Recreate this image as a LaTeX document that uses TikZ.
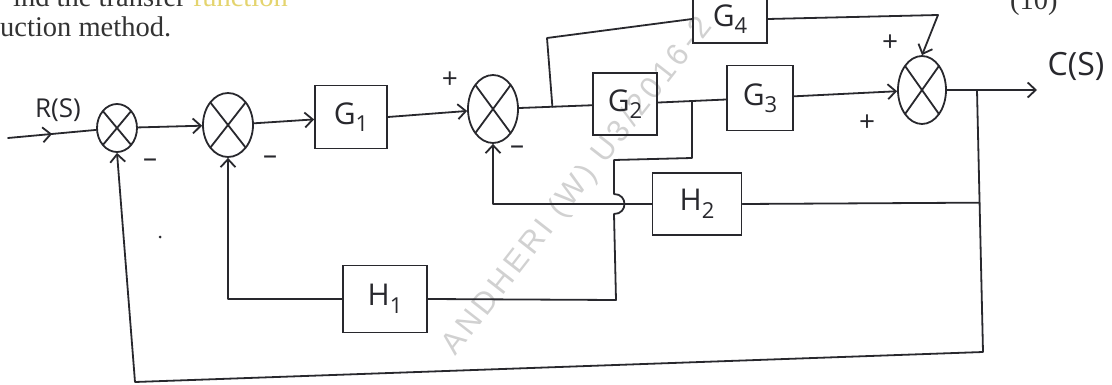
\documentclass[tikz,border=0pt]{standalone}
\usepackage{fontspec}
\setmainfont{Liberation Serif}
\newfontfamily\hand{Open Sans}
\newfontfamily\wmfont[LetterSpace=12]{Liberation Sans}
\usetikzlibrary{shapes.geometric,arrows.meta,decorations.markings,calc}
\definecolor{ink}{RGB}{40,40,45}
\definecolor{hl}{RGB}{228,212,110}
\newcommand{\sublab}[2]{#1\raisebox{-0.25em}{\fontsize{22}{22}\selectfont #2}}
\begin{document}
\begin{tikzpicture}[x=1pt,y=-1pt,
  wire/.style={line width=1.8pt, draw=ink, line cap=round, line join=round},
  >={Straight Barb[length=8pt,width=15pt]},
  blk/.style={draw=ink, line width=1.8pt, rectangle, inner sep=0pt, text=ink,
              font=\hand\fontsize{30}{30}\selectfont},
  sumj/.style={draw=ink, line width=1.8pt, ellipse, inner sep=0pt,
     path picture={\draw[line width=1.8pt, ink]
        (path picture bounding box.north west) -- (path picture bounding box.south east)
        (path picture bounding box.north east) -- (path picture bounding box.south west);}},
  sgn/.style={font=\hand\fontsize{28}{28}\selectfont, text=ink, inner sep=0pt},
  lbl/.style={font=\hand\fontsize{28}{28}\selectfont, text=ink, inner sep=0pt},
  printed/.style={anchor=base west, inner sep=0pt, text=black!80, font=\fontsize{28.5}{30}\selectfont},
  midarrow/.style={postaction={decorate}, decoration={markings, mark=at position 0.5 with {\arrow{>}}}}
  ]
\useasboundingbox (0,0) rectangle (1112,385);

% watermark
\node[rotate=52, anchor=base west, inner sep=0pt, text=black!18,
      font=\wmfont\fontsize{31}{31}\selectfont] (wm) at (455,357) {ANDHERI (W) U3/2016-2};

% printed question text
\node[printed] (q1) at (13,7) {ind the transfer \textcolor{hl}{function}};
\node[printed] (q2) at (0,37) {uction method.};
\node[printed] (q3) at (1010,10) {(10)};

% summing junctions
\node[sumj, minimum width=40pt, minimum height=48pt] (s1) at (117,128) {};
\node[sumj, minimum width=50pt, minimum height=64pt] (s2) at (228,125) {};
\node[sumj, minimum width=50pt, minimum height=68pt] (s3) at (493,109) {};
\node[sumj, minimum width=48pt, minimum height=68pt] (s4) at (922,90) {};

% blocks
\node[blk, minimum width=72pt, minimum height=63pt] (g1) at (351,117) {\sublab{G}{1}};
\node[blk, minimum width=64pt, minimum height=62pt] (g2) at (625,104) {\sublab{G}{2}};
\node[blk, minimum width=66pt, minimum height=65pt] (g3) at (760,98) {\sublab{G}{3}};
\node[blk, minimum width=74pt, minimum height=48pt] (g4) at (730,19) {\sublab{G}{4}};
\node[blk, minimum width=84pt, minimum height=67pt] (h1) at (385,299) {\sublab{H}{1}};
\node[blk, minimum width=89pt, minimum height=62pt] (h2) at (697,204) {\sublab{H}{2}};

% free ends and bends
\coordinate (in) at (8,138);
\coordinate (out) at (1037,90);
\coordinate (t1) at ($(s3)!0.45!(g2)$);
\coordinate (t2) at ($(g2.east)!0.5!(g3.west)$);
\coordinate (t3) at (977,90);
\coordinate (c1) at (983,352);
\coordinate (c2) at (135,382);
\coordinate (t4) at ($(t3)!0.43!(c1)$);
\coordinate (b1) at (547,38);
\coordinate (b2) at (938,15);
\coordinate (d1) at (692,158);
\coordinate (d2) at (614,160);
\coordinate (d3) at (616,300);

% forward path
\draw[wire, midarrow] (in) -- (s1);
\draw[wire,->] (s1) -- (s2);
\draw[wire,->] (s2) -- (g1);
\draw[wire,->] (g1.east) -- (s3);
\draw[wire] (s3) -- (g2);
\draw[wire] (g2) -- (g3);
\draw[wire,->] (g3) -- (s4);
\draw[wire,->] (s4) -- (out);

% G4 feed-forward
\draw[wire] (t1) -- (b1) -- (g4.west);
\draw[wire,->] (g4.east) -- (b2) -- (s4.north);

% H2 loop
\draw[wire,->] (h2.west) -| (s3.south);
\draw[wire] (t4) -- (h2.east);

% H1 loop with jump over the H2 line
\draw[wire] (t2) -- (d1) -- (d2) -- (614,194) .. controls (628,194) and (628,214) .. (614,214) -- (d3) -- (h1.east);
\draw[wire,->] (h1.west) -| (s2.south);

% outer unity feedback
\draw[wire,->] (t3) -- (c1) -- (c2) -- (s1.south);

% signs
\node[sgn] (p1) at (450,80) {+};
\node[sgn] (m3) at (517,150) {–};
\node[sgn] (m1) at (150,163) {–};
\node[sgn] (m2) at (270,160) {–};
\node[sgn] (p2) at (890,43) {+};
\node[sgn] (p3) at (867,123) {+};

% signal labels
\node[lbl, font=\hand\fontsize{26}{26}\selectfont] (rl) at (58,110) {R(S)};
\node[lbl, font=\hand\fontsize{32}{32}\selectfont] (cl) at (1076,66) {C(S)};

% stray dot
\fill[ink] (160,237) circle (1.5pt);
\end{tikzpicture}
\end{document}
